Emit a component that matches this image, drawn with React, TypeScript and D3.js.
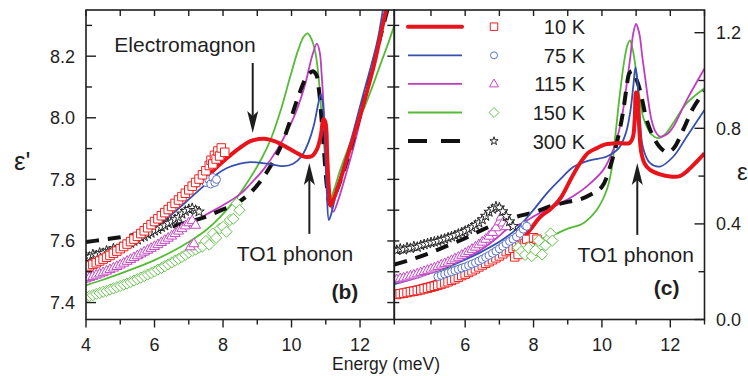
import React from "react";
import * as d3 from "d3";

type P = [number, number];

// ---------------- ticks & labels ----------------
const energyTicks = [4, 5, 6, 7, 8, 9, 10, 11, 12, 13];
const energyLabelsB = [4, 6, 8, 10, 12];
const energyLabelsC = [6, 8, 10, 12];
const reTicks = [7.4, 7.5, 7.6, 7.7, 7.8, 7.9, 8.0, 8.1, 8.2, 8.3];
const reLabels = [7.4, 7.6, 7.8, 8.0, 8.2];
const imTicks = [0, 0.2, 0.4, 0.6, 0.8, 1.0, 1.2];
const imLabels = [0, 0.4, 0.8, 1.2];
const temperatures = ["10 K", "75 K", "115 K", "150 K", "300 K"];

// ---------------- panel (b): eps' fits ----------------
const reFit10K: P[] = [[4.0,7.520],[4.5,7.547],[5.0,7.580],[5.5,7.618],[6.0,7.662],[6.5,7.708],[7.0,7.757],[7.5,7.806],[8.0,7.858],[8.5,7.903],[8.8,7.924],[9.2,7.932],[9.5,7.924],[9.8,7.908],[10.1,7.889],[10.4,7.873],[10.6,7.876],[10.75,7.900],[10.86,7.945],[10.93,7.995],[10.99,7.985],[11.04,7.88],[11.09,7.77],[11.14,7.715],[11.25,7.742],[11.42,7.797],[11.65,7.880],[11.9,7.970],[12.15,8.065],[12.4,8.168],[12.63,8.284],[12.78,8.36]];
const reFit75K: P[] = [[4.0,7.505],[4.5,7.531],[5.0,7.562],[5.5,7.598],[6.0,7.640],[6.5,7.686],[7.0,7.735],[7.4,7.775],[7.8,7.815],[8.1,7.836],[8.5,7.851],[8.8,7.856],[9.3,7.851],[9.76,7.843],[10.05,7.851],[10.3,7.876],[10.5,7.922],[10.65,7.975],[10.77,8.04],[10.85,8.076],[10.91,8.05],[10.97,7.92],[11.03,7.76],[11.09,7.668],[11.16,7.688],[11.32,7.765],[11.71,7.916],[12.1,8.079],[12.49,8.241],[12.68,8.36]];
const reFit115K: P[] = [[4.0,7.466],[4.5,7.490],[5.0,7.514],[5.5,7.540],[6.0,7.570],[6.5,7.606],[7.0,7.648],[7.5,7.685],[8.0,7.716],[8.5,7.752],[8.8,7.785],[9.2,7.835],[9.57,7.895],[9.9,7.962],[10.15,8.025],[10.4,8.11],[10.6,8.2],[10.74,8.241],[10.82,8.215],[10.88,8.14],[10.96,7.99],[11.04,7.85],[11.12,7.74],[11.22,7.695],[11.35,7.728],[11.51,7.786],[11.8,7.9],[12.1,8.035],[12.4,8.175],[12.76,8.36]];
const reFit150K: P[] = [[4.0,7.456],[4.5,7.474],[5.0,7.494],[5.5,7.515],[6.0,7.538],[6.5,7.565],[7.0,7.597],[7.5,7.635],[7.9,7.676],[8.4,7.74],[8.8,7.806],[9.1,7.862],[9.4,7.932],[9.7,8.03],[9.96,8.133],[10.2,8.222],[10.35,8.262],[10.47,8.274],[10.58,8.256],[10.7,8.21],[10.8,8.12],[10.87,8.02],[10.93,7.94],[11.0,7.84],[11.06,7.76],[11.12,7.732],[11.25,7.77],[11.42,7.83],[11.65,7.9],[11.9,7.97],[12.15,8.04],[12.39,8.11],[12.6,8.175],[12.8,8.235],[13.0,8.30]];
const reFit300K: P[] = [[4.0,7.597],[4.5,7.604],[5.0,7.612],[5.5,7.622],[6.0,7.634],[6.5,7.647],[7.0,7.662],[7.4,7.675],[7.9,7.698],[8.4,7.722],[8.8,7.757],[9.1,7.795],[9.37,7.84],[9.7,7.91],[9.96,7.99],[10.2,8.07],[10.44,8.133],[10.62,8.151],[10.72,8.14],[10.8,8.09],[10.88,7.99],[10.96,7.875],[11.04,7.77],[11.12,7.72],[11.25,7.745],[11.5,7.82],[11.8,7.93],[12.1,8.05],[12.4,8.18],[12.82,8.36]];

// ---------------- panel (b): eps' data ----------------
const reData10K: P[] = [[4.0,7.515],[4.1,7.519],[4.2,7.524],[4.3,7.529],[4.4,7.535],[4.5,7.541],[4.6,7.547],[4.7,7.553],[4.8,7.560],[4.9,7.567],[5.0,7.575],[5.1,7.582],[5.2,7.590],[5.3,7.598],[5.4,7.606],[5.5,7.615],[5.6,7.624],[5.7,7.633],[5.8,7.643],[5.9,7.653],[6.0,7.663],[6.1,7.672],[6.2,7.682],[6.3,7.692],[6.4,7.702],[6.5,7.712],[6.6,7.722],[6.7,7.733],[6.8,7.744],[6.9,7.755],[7.0,7.766],[7.1,7.778],[7.2,7.790],[7.3,7.801],[7.4,7.815],[7.5,7.828],[7.6,7.845],[7.65,7.862],[7.7,7.850],[7.75,7.878],[7.8,7.866],[7.85,7.892],[7.9,7.876],[7.95,7.902],[8.05,7.888]];
const reData75K: P[] = [[7.5,7.790],[7.58,7.800],[7.64,7.785],[7.7,7.806],[7.76,7.790],[7.81,7.800]];
const reData115K: P[] = [[4.0,7.478],[4.1,7.482],[4.2,7.486],[4.3,7.490],[4.4,7.494],[4.5,7.498],[4.6,7.503],[4.7,7.508],[4.8,7.513],[4.9,7.518],[5.0,7.523],[5.1,7.529],[5.2,7.535],[5.3,7.541],[5.4,7.547],[5.5,7.553],[5.6,7.559],[5.7,7.565],[5.8,7.571],[5.9,7.577],[6.0,7.583],[6.1,7.589],[6.2,7.596],[6.3,7.603],[6.4,7.610],[6.5,7.617],[6.6,7.625],[6.7,7.633],[6.8,7.641],[6.9,7.650],[7.0,7.660],[7.05,7.582],[7.1,7.667],[7.15,7.592],[7.2,7.652]];
const reData150K: P[] = [[4.0,7.418],[4.1,7.421],[4.2,7.424],[4.3,7.428],[4.4,7.431],[4.5,7.435],[4.6,7.438],[4.7,7.442],[4.8,7.446],[4.9,7.450],[5.0,7.454],[5.1,7.458],[5.2,7.462],[5.3,7.466],[5.4,7.471],[5.5,7.476],[5.6,7.481],[5.7,7.486],[5.8,7.491],[5.9,7.496],[6.0,7.501],[6.1,7.507],[6.2,7.512],[6.3,7.518],[6.4,7.524],[6.5,7.530],[6.6,7.536],[6.7,7.542],[6.8,7.548],[6.9,7.555],[7.0,7.562],[7.1,7.568],[7.2,7.572],[7.3,7.578],[7.4,7.582],[7.5,7.600],[7.6,7.588],[7.7,7.624],[7.8,7.610],[7.9,7.640],[8.0,7.646],[8.1,7.630],[8.2,7.668],[8.3,7.672],[8.4,7.722],[8.48,7.700]];
const reData300K: P[] = [[4.0,7.550],[4.1,7.548],[4.2,7.556],[4.3,7.553],[4.4,7.561],[4.5,7.560],[4.6,7.568],[4.7,7.566],[4.8,7.575],[4.9,7.573],[5.0,7.580],[5.1,7.584],[5.2,7.590],[5.3,7.593],[5.4,7.600],[5.5,7.604],[5.6,7.612],[5.7,7.615],[5.8,7.622],[5.9,7.626],[6.0,7.633],[6.1,7.638],[6.2,7.645],[6.3,7.650],[6.4,7.657],[6.5,7.662],[6.6,7.670],[6.7,7.677],[6.8,7.688],[6.9,7.697],[7.0,7.703],[7.1,7.706],[7.2,7.700],[7.3,7.695]];

// ---------------- panel (c): eps'' fits ----------------
const imFit10K: P[] = [[3.93,0.115],[4.5,0.133],[5.0,0.152],[5.5,0.173],[6.0,0.198],[6.5,0.226],[7.0,0.26],[7.3,0.285],[7.6,0.322],[7.9,0.375],[8.2,0.43],[8.5,0.462],[8.8,0.51],[9.1,0.59],[9.36,0.654],[9.6,0.698],[9.85,0.717],[10.1,0.733],[10.5,0.738],[10.8,0.738],[10.9,0.76],[10.96,0.84],[11.0,0.95],[11.03,0.945],[11.08,0.83],[11.15,0.70],[11.25,0.652],[11.41,0.626],[11.7,0.607],[12.0,0.598],[12.28,0.6],[12.5,0.622],[12.77,0.66],[13.0,0.695]];
const imFit75K: P[] = [[3.93,0.148],[4.5,0.172],[5.0,0.195],[5.5,0.22],[6.0,0.25],[6.5,0.285],[7.0,0.325],[7.5,0.378],[8.0,0.459],[8.4,0.53],[8.86,0.598],[9.16,0.638],[9.65,0.666],[10.14,0.682],[10.5,0.718],[10.7,0.78],[10.83,0.87],[10.92,0.98],[10.98,1.055],[11.03,1.01],[11.1,0.86],[11.2,0.72],[11.41,0.654],[11.7,0.64],[12.09,0.682],[12.48,0.765],[13.0,0.877]];
const imFit115K: P[] = [[3.93,0.165],[4.5,0.185],[5.0,0.205],[5.5,0.228],[6.0,0.257],[6.5,0.295],[7.0,0.35],[7.22,0.378],[7.59,0.398],[8.19,0.446],[8.76,0.485],[9.2,0.52],[9.55,0.556],[10.04,0.626],[10.33,0.71],[10.5,0.79],[10.62,0.877],[10.72,0.98],[10.82,1.086],[10.92,1.2],[11.0,1.237],[11.06,1.215],[11.11,1.184],[11.18,1.1],[11.26,1.016],[11.35,0.92],[11.45,0.835],[11.57,0.785],[11.7,0.765],[11.9,0.775],[12.09,0.807],[12.48,0.918],[13.0,1.05]];
const imFit150K: P[] = [[3.93,0.18],[4.5,0.19],[5.0,0.2],[5.5,0.214],[6.0,0.233],[6.5,0.257],[7.0,0.283],[7.6,0.318],[8.0,0.333],[8.48,0.347],[8.68,0.36],[9.0,0.38],[9.455,0.403],[9.85,0.459],[10.14,0.542],[10.28,0.626],[10.4,0.78],[10.53,0.95],[10.65,1.08],[10.75,1.15],[10.82,1.168],[10.9,1.13],[10.97,1.07],[11.05,0.98],[11.11,0.918],[11.2,0.85],[11.31,0.807],[11.45,0.775],[11.65,0.759],[11.85,0.775],[12.09,0.823],[12.48,0.905],[13.0,0.968]];
const imFit300K: P[] = [[3.93,0.23],[4.4,0.25],[4.9,0.275],[5.5,0.31],[6.0,0.34],[6.5,0.375],[7.0,0.405],[7.5,0.43],[8.0,0.448],[8.5,0.474],[9.0,0.492],[9.4,0.505],[9.7,0.525],[10.0,0.555],[10.24,0.64],[10.4,0.72],[10.53,0.8],[10.63,0.88],[10.72,0.97],[10.8,1.03],[10.88,1.04],[10.96,1.02],[11.06,0.985],[11.16,0.93],[11.31,0.835],[11.5,0.765],[11.7,0.72],[11.9,0.7],[12.09,0.715],[12.38,0.795],[12.67,0.885],[13.0,0.955]];

// ---------------- panel (c): eps'' data ----------------
const imData10K: P[] = [[4.0,0.105],[4.1,0.108],[4.2,0.110],[4.3,0.113],[4.4,0.116],[4.5,0.118],[4.6,0.121],[4.7,0.124],[4.8,0.128],[4.9,0.131],[5.0,0.135],[5.1,0.139],[5.2,0.143],[5.3,0.148],[5.4,0.153],[5.5,0.158],[5.6,0.164],[5.7,0.170],[5.8,0.177],[5.9,0.184],[6.0,0.190],[6.1,0.197],[6.2,0.204],[6.3,0.212],[6.4,0.220],[6.5,0.228],[6.6,0.235],[6.7,0.242],[6.8,0.250],[6.9,0.258],[7.0,0.266],[7.1,0.275],[7.2,0.284],[7.3,0.290],[7.4,0.298],[7.45,0.262],[7.5,0.305],[7.55,0.272],[7.6,0.310],[7.7,0.330],[7.75,0.318],[7.8,0.335],[7.9,0.305],[8.0,0.342],[8.1,0.336]];
const imData75K: P[] = [[5.2,0.180],[5.3,0.185],[5.4,0.190],[5.5,0.195],[5.6,0.200],[5.7,0.205],[5.8,0.210],[5.9,0.215],[6.0,0.220],[6.1,0.226],[6.2,0.232],[6.3,0.238],[6.4,0.245],[6.5,0.252],[6.6,0.260],[6.7,0.268],[6.8,0.277],[6.9,0.286],[7.0,0.296],[7.1,0.306],[7.2,0.317],[7.3,0.327],[7.4,0.336],[7.5,0.346],[7.6,0.360],[7.7,0.378],[7.75,0.395],[7.8,0.390]];
const imData115K: P[] = [[4.0,0.168],[4.1,0.172],[4.2,0.175],[4.3,0.179],[4.4,0.183],[4.5,0.187],[4.6,0.192],[4.7,0.197],[4.8,0.202],[4.9,0.207],[5.0,0.212],[5.1,0.217],[5.2,0.223],[5.3,0.229],[5.4,0.235],[5.5,0.241],[5.6,0.248],[5.7,0.255],[5.8,0.262],[5.9,0.270],[6.0,0.278],[6.1,0.286],[6.2,0.295],[6.3,0.304],[6.4,0.314],[6.5,0.325],[6.6,0.337],[6.7,0.350],[6.8,0.365],[6.9,0.385],[7.0,0.410],[7.05,0.430],[7.1,0.405],[7.2,0.390]];
const imData150K: P[] = [[7.55,0.300],[7.65,0.285],[7.75,0.270],[7.85,0.300],[7.95,0.265],[8.05,0.290],[8.15,0.330],[8.25,0.272],[8.35,0.310],[8.45,0.340],[8.5,0.360],[8.55,0.330]];
const imData300K: P[] = [[4.0,0.290],[4.1,0.295],[4.2,0.292],[4.3,0.300],[4.4,0.298],[4.5,0.305],[4.6,0.303],[4.7,0.310],[4.8,0.314],[4.9,0.318],[5.0,0.322],[5.1,0.325],[5.2,0.328],[5.3,0.333],[5.4,0.337],[5.5,0.342],[5.6,0.347],[5.7,0.352],[5.8,0.358],[5.9,0.364],[6.0,0.370],[6.1,0.377],[6.2,0.385],[6.3,0.395],[6.4,0.405],[6.5,0.418],[6.6,0.433],[6.7,0.450],[6.8,0.462],[6.9,0.472],[7.0,0.468],[7.1,0.452],[7.2,0.432],[7.3,0.410],[7.4,0.390]];

// ---------------- styling ----------------
const lineColors = ["#e8141c", "#3550b0", "#c03cc0", "#55bb35", "#111111"];
const symColors = ["#f02020", "#5a72c8", "#c448c4", "#66c24a", "#222222"];
const lineWidths = [4, 1.8, 1.8, 1.8, 4];
const symbolKinds = ["square", "circle", "triangle", "diamond", "star"];
const FONT = "'Liberation Sans', Arial, Helvetica, sans-serif";
const INK = "#1e1e1e";

function symbolPath(kind: string, s: number): string {
  if (kind === "square") return `M${-s / 2},${-s / 2}h${s}v${s}h${-s}Z`;
  if (kind === "circle") {
    const r = s / 2;
    return `M${r},0A${r},${r},0,1,1,${-r},0A${r},${r},0,1,1,${r},0Z`;
  }
  if (kind === "triangle") {
    const h = s * 0.87;
    return `M0,${-h * 0.62}L${s / 2},${h * 0.38}L${-s / 2},${h * 0.38}Z`;
  }
  if (kind === "diamond") {
    const d = s * 0.62;
    return `M0,${-d}L${d},0L0,${d}L${-d},0Z`;
  }
  return d3.symbol(d3.symbolStar, s * s * 0.33)() as string;
}
const symSizes = [8.5, 8, 10, 9, 10];
const legendSymSizes = [7.5, 7, 9, 8, 8];

function Arrow({ x, yTip, yTail }: { x: number; yTip: number; yTail: number }) {
  const dir = yTail > yTip ? 1 : -1;
  const hl = 22, hw = 5.5, notch = 5;
  const head = `M${x},${yTip}L${x - hw},${yTip + dir * hl}L${x},${yTip + dir * (hl - notch)}L${x + hw},${yTip + dir * hl}Z`;
  return (
    <g>
      <line x1={x} x2={x} y1={yTail} y2={yTip + dir * (hl - notch)} stroke={INK} strokeWidth={2} />
      <path d={head} fill={INK} />
    </g>
  );
}

export default function App() {
  const W = 748, H = 376;
  const left = 86, mid = 394.3, right = 704.5, top = 10, bottom = 319.5;

  const xB = d3.scaleLinear().domain([4, 13]).range([left, mid]);
  const xC = d3.scaleLinear().domain([3.927, 13]).range([mid, right]);
  const yB = d3.scaleLinear().domain([7.345, 8.35]).range([bottom, top]);
  const yC = d3.scaleLinear().domain([0, 1.295]).range([bottom, top]);

  const lineB = d3.line<P>().x(d => xB(d[0])).y(d => yB(d[1])).curve(d3.curveCatmullRom.alpha(0.5));
  const lineC = d3.line<P>().x(d => xC(d[0])).y(d => yC(d[1])).curve(d3.curveCatmullRom.alpha(0.5));

  const fitsB = [reFit10K, reFit75K, reFit115K, reFit150K, reFit300K];
  const fitsC = [imFit10K, imFit75K, imFit115K, imFit150K, imFit300K];
  const dataB = [reData10K, reData75K, reData115K, reData150K, reData300K];
  const dataC = [imData10K, imData75K, imData115K, imData150K, imData300K];

  const lineOrder = [3, 2, 4, 1, 0];
  const symOrderB = [3, 2, 4, 1, 0];
  const symOrderC = [2, 4, 0, 1, 3];

  const renderFit = (pts: P[], i: number, gen: any, key: string) => (
    <path key={key} d={gen(pts) as string} fill="none" stroke={lineColors[i]} strokeWidth={lineWidths[i]}
      strokeDasharray={i === 4 ? "13,9" : undefined} strokeLinejoin="round" />
  );
  const renderSyms = (pts: P[], i: number, xs: any, ys: any, key: string) => (
    <g key={key}>
      {pts.map((p, j) => (
        <path key={j} d={symbolPath(symbolKinds[i], symSizes[i])} transform={`translate(${xs(p[0])},${ys(p[1])})`}
          fill="#fff" stroke={symColors[i]} strokeWidth={1} />
      ))}
    </g>
  );

  const fmt1 = d3.format(".1f");
  const legendY0 = 26.7, legendDy = 28.6;

  return (
    <svg width={W} height={H} viewBox={`0 0 ${W} ${H}`}
      style={{ position: "absolute", left: 0, top: 0, background: "#fff", fontFamily: FONT }}>
      <defs>
        <clipPath id="clipB"><rect x={left} y={top} width={mid - left} height={bottom - top} /></clipPath>
        <clipPath id="clipC"><rect x={mid} y={top} width={right - mid} height={bottom - top} /></clipPath>
      </defs>

      <g clipPath="url(#clipB)">
        {lineOrder.map(i => renderFit(fitsB[i], i, lineB, "fb" + i))}
        {symOrderB.map(i => renderSyms(dataB[i], i, xB, yB, "sb" + i))}
      </g>
      <g clipPath="url(#clipC)">
        {lineOrder.map(i => renderFit(fitsC[i], i, lineC, "fc" + i))}
        {symOrderC.map(i => renderSyms(dataC[i], i, xC, yC, "sc" + i))}
      </g>

      <rect x={left} y={top} width={mid - left} height={bottom - top} fill="none" stroke={INK} strokeWidth={1.6} />
      <rect x={mid} y={top} width={right - mid} height={bottom - top} fill="none" stroke={INK} strokeWidth={1.6} />

      {energyTicks.map(t => (
        <g key={"eb" + t} stroke={INK} strokeWidth={1.4}>
          <line x1={xB(t)} x2={xB(t)} y1={bottom} y2={bottom + (t % 2 === 0 ? 8 : 5)} />
          <line x1={xB(t)} x2={xB(t)} y1={top} y2={top + 6} />
        </g>
      ))}
      {energyTicks.filter(t => t >= 5).map(t => (
        <g key={"ec" + t} stroke={INK} strokeWidth={1.4}>
          <line x1={xC(t)} x2={xC(t)} y1={bottom} y2={bottom + (t % 2 === 0 ? 8 : 5)} />
          <line x1={xC(t)} x2={xC(t)} y1={top} y2={top + 6} />
        </g>
      ))}
      {energyLabelsB.map(t => (
        <text key={"lb" + t} x={xB(t)} y={351} textAnchor="middle" fontSize={18} fill={INK}>{t}</text>
      ))}
      {energyLabelsC.map(t => (
        <text key={"lc" + t} x={xC(t)} y={351} textAnchor="middle" fontSize={18} fill={INK}>{t}</text>
      ))}

      {reTicks.map((t, k) => {
        const major = k % 2 === 0;
        return (
          <g key={"rt" + t} stroke={INK} strokeWidth={1.4}>
            <line x1={left} x2={left + (major ? 10 : 6)} y1={yB(t)} y2={yB(t)} />
            <line x1={mid - 7} x2={mid + 5} y1={yB(t)} y2={yB(t)} />
          </g>
        );
      })}
      {reLabels.map(t => (
        <text key={"rl" + t} x={75} y={yB(t) + 6.5} textAnchor="end" fontSize={18} fill={INK}>{fmt1(t)}</text>
      ))}

      {imTicks.map((t, k) => (
        <line key={"it" + t} x1={right} x2={right - (k % 2 === 0 ? 10 : 6)} y1={yC(t)} y2={yC(t)} stroke={INK} strokeWidth={1.4} />
      ))}
      {imLabels.map(t => (
        <text key={"il" + t} x={716} y={yC(t) + 6.5} textAnchor="start" fontSize={18} fill={INK}>{fmt1(t)}</text>
      ))}

      <text x={386} y={370} textAnchor="middle" fontSize={17.5} fill={INK}>Energy (meV)</text>
      <text x={14} y={170} fontSize={26} fill={INK}>ε'</text>
      <text x={737} y={180} fontSize={24} fill={INK}>ε''</text>

      <text x={xB(6.89)} y={yB(8.214)} textAnchor="middle" fontSize={21} fill={INK}>Electromagnon</text>
      <Arrow x={xB(8.867)} yTip={yB(7.951)} yTail={yB(8.178)} />
      <Arrow x={xB(10.52)} yTip={yB(7.853)} yTail={yB(7.623)} />
      <text x={xB(10.1)} y={yB(7.536)} textAnchor="middle" fontSize={21} fill={INK}>TO1 phonon</text>
      <text x={xB(11.56)} y={yB(7.412)} textAnchor="middle" fontSize={21} fontWeight="bold" fill={INK}>(b)</text>

      <Arrow x={xC(11.034)} yTip={yC(0.655)} yTail={yC(0.354)} />
      <text x={xC(10.99)} y={yC(0.242)} textAnchor="middle" fontSize={21} fill={INK}>TO1 phonon</text>
      <text x={xC(11.89)} y={yC(0.102)} textAnchor="middle" fontSize={21} fontWeight="bold" fill={INK}>(c)</text>

      {temperatures.map((lab, i) => {
        const y = legendY0 + i * legendDy;
        return (
          <g key={"lg" + i}>
            <line x1={408} x2={462} y1={y} y2={y} stroke={lineColors[i]} strokeWidth={lineWidths[i]}
              strokeDasharray={i === 4 ? "19,14" : undefined} strokeLinecap={i === 0 ? "round" : "butt"} />
            <path d={symbolPath(symbolKinds[i], legendSymSizes[i])} transform={`translate(494,${y})`} fill="#fff"
              stroke={symColors[i]} strokeWidth={1} />
            <text x={585} y={y + 7.5} textAnchor="end" fontSize={20} fill={INK}>{lab}</text>
          </g>
        );
      })}
    </svg>
  );
}
